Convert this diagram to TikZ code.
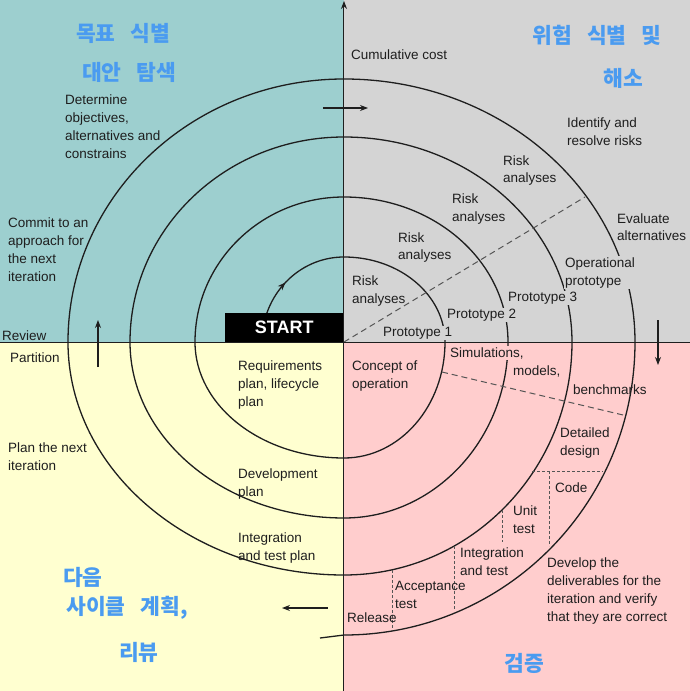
\documentclass[tikz,border=0pt]{standalone}
\usepackage{fontspec}
\setmainfont{Liberation Sans}
\newfontfamily\krfamily{Noto Sans CJK KR}[WordSpace=3]
\usetikzlibrary{arrows.meta, decorations.markings}

\definecolor{quadteal}{RGB}{157,207,207}
\definecolor{quadgray}{RGB}{212,212,212}
\definecolor{quadcream}{RGB}{255,255,208}
\definecolor{quadpink}{RGB}{255,205,205}
\definecolor{ink}{RGB}{30,30,30}
\definecolor{dashgray}{RGB}{85,85,85}
\definecolor{krblue}{RGB}{74,155,240}

\begin{document}
\begin{tikzpicture}[x=1pt, y=1pt, >={Stealth[length=8pt,width=6pt]},
  txt/.style={anchor=base west, align=left, inner sep=1pt, text=ink,
    font=\fontsize{13.5}{18}\selectfont},
  kr/.style={text=krblue, font=\krfamily\bfseries\fontsize{21.5}{26}\selectfont},
  spiral/.style={draw=ink, line width=1.3pt},
  phase/.style={draw=dashgray, line width=1pt, dash pattern=on 6pt off 4pt},
  split/.style={draw=dashgray, line width=0.8pt, dash pattern=on 3pt off 2pt}]
  \useasboundingbox (-344,-349) rectangle (346,342);
  % quadrants
  \fill[quadteal] (-344,0) rectangle (0,342);
  \fill[quadgray] (0,0) rectangle (346,342);
  \fill[quadcream] (-344,-349) rectangle (0,0);
  \fill[quadpink] (0,-349) rectangle (346,0);

  % the spiral, one quarter ellipse at a time
  \draw[spiral, postaction={decorate},
    decoration={markings, mark=at position 0.5 with {\arrow{>}}}]
    (-82,0) arc[start angle=180, end angle=90, x radius=82, y radius=85];
  \draw[spiral] (0,85)
    \foreach \s/\rx/\ry in {90/101/85, 0/101/116, -90/149/116,
      180/149/145, 90/164/145, 0/164/176, -90/214/176,
      180/214/205, 90/228/205, 0/228/233, -90/276/233,
      180/276/263, 90/291/263, 0/291/293}
    { arc[start angle=\s, delta angle=-90, x radius=\rx, y radius=\ry] }
    -- ++(-24,-3);

  % phase boundaries
  \draw[phase] (0,0) -- (241,145);
  \draw[phase] (98,-30) -- (279,-73);
  \draw[split] (188,-129) -- (259,-129);
  \draw[split] (205,-129) -- (205,-204);
  \draw[split] (158,-168) -- (158,-200);
  \draw[split] (110,-204) -- (110,-267);
  \draw[split] (48,-228) -- (48,-288);

  % direction of travel
  \draw[->, line width=1.1pt, ink] (-21,234) -- (24,234);
  \draw[->, line width=1.1pt, ink] (314,22) -- (314,-23);
  \draw[->, line width=1.1pt, ink] (-16,-266) -- (-62,-266);
  \draw[->, line width=1.1pt, ink] (-246,-25) -- (-246,22);

  \node[fill=black, text=white, font=\bfseries\fontsize{18}{20}\selectfont,
    minimum width=119pt, minimum height=29pt, inner sep=0pt,
    anchor=south east] (start) at (0,0) {START};

  % axes
  \draw[line width=1pt, ink] (-344,0) -- (346,0);
  \draw[->, line width=1pt, ink] (0,-349) -- (0,341);

  % labels sit on the baseline of their last line
  % top left
  \node[txt] (determine) at (-280,183) {Determine\\objectives,\\alternatives and\\constrains};
  \node[txt] (commit) at (-337,61) {Commit to an\\approach for\\the next\\iteration};
  \node[txt] (review) at (-343,2) {Review};
  % top right
  \node[txt] (cost) at (6,282) {Cumulative cost};
  \node[txt] (identify) at (222,196) {Identify and\\resolve risks};
  \node[txt] (riskd) at (158,159) {Risk\\analyses};
  \node[txt] (riskc) at (107,121) {Risk\\analyses};
  \node[txt] (riskb) at (53,82) {Risk\\analyses};
  \node[txt] (riska) at (7,39) {Risk\\analyses};
  \node[txt] (evaluate) at (272,101) {Evaluate\\alternatives};
  \node[txt, fill=quadgray] (opproto) at (220,57) {Operational\\prototype};
  \node[txt, fill=quadgray] (protoc) at (163,41) {Prototype 3};
  \node[txt, fill=quadgray] (protob) at (102,24) {Prototype 2};
  \node[txt, fill=quadgray] (protoa) at (38,6) {Prototype 1};
  % bottom left
  \node[txt] (partition) at (-335,-20) {Partition};
  \node[txt] (plannext) at (-337,-128) {Plan the next\\iteration};
  \node[txt] (reqplan) at (-107,-64) {Requirements\\plan, lifecycle\\plan};
  \node[txt] (devplan) at (-107,-154) {Development\\plan};
  \node[txt] (intplan) at (-107,-218) {Integration\\and test plan};
  % bottom right
  \node[txt, fill=quadpink] (sims) at (105,-15) {Simulations,};
  \node[txt] (concept) at (7,-46) {Concept of\\operation};
  \node[txt] (models) at (168,-33) {models,};
  \node[txt] (bench) at (228,-52) {benchmarks};
  \node[txt] (design) at (215,-113) {Detailed\\design};
  \node[txt] (code) at (210,-150) {Code};
  \node[txt] (unit) at (168,-191) {Unit\\test};
  \node[txt] (inttest) at (115,-233) {Integration\\and test};
  \node[txt] (accept) at (50,-266) {Acceptance\\test};
  \node[txt] (release) at (2,-280) {Release};
  \node[txt] (develop) at (202,-279) {Develop the\\deliverables for the\\iteration and verify\\that they are correct};

  % handwritten notes
  \node[kr] (krgoal) at (-221,309) {목표 식별};
  \node[kr] (kralt) at (-215,270) {대안 탐색};
  \node[kr] (krrisk) at (253,307) {위험 식별 및};
  \node[kr] (krsolve) at (279,264) {해소};
  \node[kr] (krnext) at (-261,-235) {다음};
  \node[kr] (krplan) at (-217,-266) {사이클 계획,};
  \node[kr] (krreview) at (-205,-310) {리뷰};
  \node[kr] (krcheck) at (180,-321) {검증};
\end{tikzpicture}
\end{document}
